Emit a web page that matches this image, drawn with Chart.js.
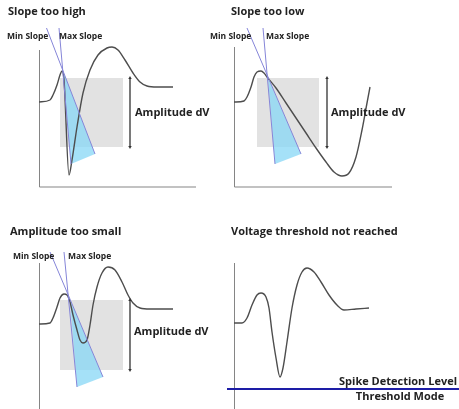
<!DOCTYPE html>
<html lang="en">
<head>
<meta charset="utf-8">
<title>Spike detection - failure cases</title>
<script src="https://cdn.jsdelivr.net/npm/chart.js@4.4.1/dist/chart.umd.min.js"></script>
<style>
body {margin: 0; background: #fff; overflow: hidden;}
canvas.panel {position: absolute; left: 0; top: 0;}
</style>
</head>
<body>
<canvas id="pHigh" class="panel" width="459" height="409"></canvas>
<canvas id="pLow" class="panel" width="459" height="409"></canvas>
<canvas id="pSmall" class="panel" width="459" height="409"></canvas>
<canvas id="pThr" class="panel" width="459" height="409"></canvas>
<script>
// waveforms: time (arbitrary units) / voltage (0 = resting level)
const highTime = [0, 11, 14, 18, 21, 23, 25, 30, 33, 38, 44, 51, 59, 68, 73, 79, 86, 94, 101, 108, 118, 134];
const highVolt = [0, 2, 7, 17, 27, 31, 22, -73, -58, -25, 9, 32, 47, 54, 55, 52, 42, 29, 20, 16, 15, 15];

const lowTime = [0, 2, 10, 13, 17, 20, 23, 27, 30, 33, 42, 52, 62, 72, 82, 92, 100, 108, 115, 122, 128, 133, 136];
const lowVolt = [0, 0, 1, 5, 15, 25, 30, 31, 29, 25, 14, -1, -16, -31, -46, -60, -70, -74, -71, -55, -28, -1, 15];

const smallTime = [0, 11, 14, 18, 21, 25, 28, 31, 34, 38, 41, 44, 48, 51, 54, 58, 63, 69, 76, 83, 89, 94, 101, 111, 134];
const smallVolt = [0, 1, 6, 17, 26, 30, 29, 22, 9, -6, -16, -19, -16, -1, 19, 37, 51, 57, 54, 42, 29, 21, 16, 15, 15];

const thrTime = [0, 2, 8, 13, 18, 23, 27, 32, 35, 38, 42, 46, 49, 53, 58, 63, 68, 73, 80, 87, 95, 103, 110, 122, 135];
const thrVolt = [0, 0, 0, 5, 18, 28, 30, 26, 15, -9, -35, -54, -45, -19, 15, 38, 51, 55, 51, 41, 28, 18, 13, 14, 15];

// detection window (time from/to, voltage top/bottom) = amplitude dV
const highBox = [21, 84, 24, -45];
const lowBox = [23, 85, 24, -45];
const smallBox = [21, 84, 24, -46];
const arrowTime = [91, 93, 91];

// slope lines: [t top, v top, t bottom, v bottom]
const highMin = [7.5, 74, 56, -52];
const highMax = [20, 74, 32, -62];
const lowMin = [13, 74, 67, -52];
const lowMax = [29, 74, 41, -62];
const smallMin = [11, 72, 64, -53];
const smallMax = [25, 72, 38, -63];
// cone apex (t, v)
const highApex = [24, 31];
const lowApex = [34, 24];
const smallApex = [31, 24];

// spike detection level (voltage) and its span in time
const thrLevel = -66;
const thrSpan = [-7, 225];

function pts(xs, ys) {
  return xs.map(function (x, i) { return {x: x, y: ys[i]}; });
}

// axis lines and text drawn on top of the scales
const decor = {
  id: 'decor',
  beforeDatasetsDraw(chart, args, opts) {
    const ctx = chart.ctx, a = chart.chartArea;
    const x0 = Math.round(chart.scales.x.getPixelForValue(0)) + 0.5;
    ctx.save();
    ctx.strokeStyle = '#858585';
    ctx.lineWidth = 1;
    ctx.beginPath();
    ctx.moveTo(x0, a.top);
    ctx.lineTo(x0, a.bottom);
    if (opts.xAxis) {
      ctx.lineTo(a.right, a.bottom);
    }
    ctx.stroke();
    ctx.restore();
  },
  afterDraw(chart, args, opts) {
    const ctx = chart.ctx;
    ctx.save();
    ctx.fillStyle = '#222';
    ctx.textBaseline = 'middle';
    (opts.texts || []).forEach(function (t) {
      ctx.font = 'bold ' + t.size + 'px "Open Sans", sans-serif';
      ctx.textAlign = t.align || 'left';
      ctx.fillText(t.text, t.x, t.y);
    });
    ctx.restore();
  }
};

function makePanel(id, p) {
  const ds = [];
  if (p.box) {
    const b = p.box;
    ds.push({
      data: [{x: b[0], y: b[2]}, {x: b[1], y: b[2]}, {x: b[1], y: b[3]}, {x: b[0], y: b[3]}, {x: b[0], y: b[2]}],
      fill: 'shape', backgroundColor: '#e2e2e2', borderWidth: 0, order: 6
    });
    ds.push({
      data: [{x: p.arrowT, y: b[2]}, {x: p.arrowT, y: b[3]}],
      borderColor: '#333', borderWidth: 1.3, pointStyle: 'triangle', pointRadius: 2,
      pointRotation: [0, 180], pointBackgroundColor: '#333', pointBorderWidth: 0, order: 1
    });
  }
  if (p.minLine) {
    const m = p.minLine, n = p.maxLine, a = p.apex;
    ds.push({
      data: [{x: a[0], y: a[1]}, {x: n[2], y: n[3]}, {x: m[2], y: m[3]}, {x: a[0], y: a[1]}],
      fill: 'shape', backgroundColor: 'rgba(135, 215, 245, 0.75)', borderWidth: 0, order: 5
    });
    [m, n].forEach(function (l) {
      ds.push({
        data: [{x: l[0], y: l[1]}, {x: l[2], y: l[3]}],
        borderColor: '#8585d8', borderWidth: 1, order: 2
      });
    });
  }
  ds.push({
    data: p.wave, borderColor: '#4d4d4d', borderWidth: 1.4,
    cubicInterpolationMode: 'monotone', order: 3
  });
  if (p.level !== undefined) {
    ds.push({
      data: [{x: p.span[0], y: p.level}, {x: p.span[1], y: p.level}],
      borderColor: '#1d1da6', borderWidth: 2, order: 0
    });
  }
  ds.forEach(function (d) {
    d.clip = false;
    if (d.pointRadius === undefined) d.pointRadius = 0;
  });

  return new Chart(document.getElementById(id), {
    type: 'line',
    data: {datasets: ds},
    options: {
      responsive: false,
      animation: false,
      events: [],
      layout: {autoPadding: false, padding: p.pad},
      scales: {
        x: {type: 'linear', display: false, min: 0, max: p.tMax},
        y: {type: 'linear', display: false, min: p.vMin, max: p.vMax}
      },
      plugins: {
        legend: {display: false},
        tooltip: {enabled: false},
        decor: {xAxis: p.xAxis, texts: p.texts}
      }
    },
    plugins: [decor]
  });
}

makePanel('pHigh', {
  wave: pts(highTime, highVolt), box: highBox, arrowT: arrowTime[0],
  minLine: highMin, maxLine: highMax, apex: highApex,
  pad: {left: 39, top: 50, right: 263, bottom: 222}, tMax: 157, vMin: -85, vMax: 52, xAxis: true,
  texts: [
    {text: 'Slope too high', x: 8, y: 12, size: 11},
    {text: 'Min Slope', x: 7, y: 37, size: 8.5},
    {text: 'Max Slope', x: 59, y: 37, size: 8.5},
    {text: 'Amplitude dV', x: 135, y: 113, size: 11}
  ]
});

makePanel('pLow', {
  wave: pts(lowTime, lowVolt), box: lowBox, arrowT: arrowTime[1],
  minLine: lowMin, maxLine: lowMax, apex: lowApex,
  pad: {left: 234, top: 47, right: 67, bottom: 222}, tMax: 158, vMin: -85, vMax: 55, xAxis: true,
  texts: [
    {text: 'Slope too low', x: 231, y: 12, size: 11},
    {text: 'Min Slope', x: 210, y: 37, size: 8.5},
    {text: 'Max Slope', x: 266, y: 37, size: 8.5},
    {text: 'Amplitude dV', x: 331, y: 113, size: 11}
  ]
});

makePanel('pSmall', {
  wave: pts(smallTime, smallVolt), box: smallBox, arrowT: arrowTime[2],
  minLine: smallMin, maxLine: smallMax, apex: smallApex,
  pad: {left: 39, top: 263, right: 263, bottom: 0}, tMax: 157, vMin: -85, vMax: 61, xAxis: false,
  texts: [
    {text: 'Amplitude too small', x: 10, y: 232, size: 11},
    {text: 'Min Slope', x: 13, y: 257, size: 8.5},
    {text: 'Max Slope', x: 68, y: 257, size: 8.5},
    {text: 'Amplitude dV', x: 134, y: 332, size: 11}
  ]
});

makePanel('pThr', {
  wave: pts(thrTime, thrVolt), level: thrLevel, span: thrSpan,
  pad: {left: 234, top: 263, right: 67, bottom: 0}, tMax: 158, vMin: -86, vMax: 60, xAxis: false,
  texts: [
    {text: 'Voltage threshold not reached', x: 231, y: 232, size: 11},
    {text: 'Spike Detection Level', x: 457, y: 382, size: 11, align: 'right'},
    {text: 'Threshold Mode', x: 400, y: 397, size: 11, align: 'center'}
  ]
});
</script>
</body>
</html>
